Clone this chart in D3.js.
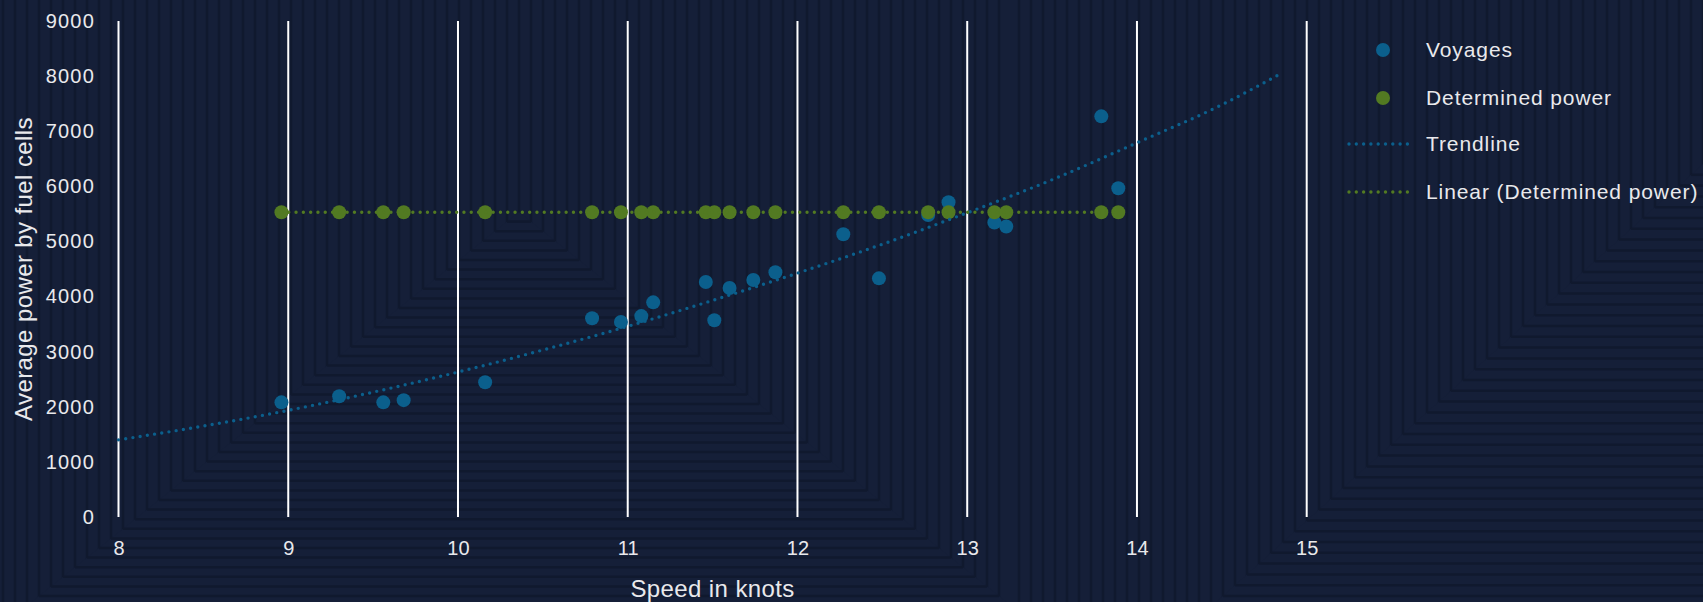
<!DOCTYPE html>
<html>
<head>
<meta charset="utf-8">
<script src="https://cdnjs.cloudflare.com/ajax/libs/d3/7.8.5/d3.min.js"></script>
<style>
  body { margin: 0; background: #151f38; }
  svg { display: block; }
</style>
</head>
<body>
<div id="chart"></div>
<script>
// values
var voyageSpeed = [8.96, 9.30, 9.56, 9.68, 10.16, 10.79, 10.96, 11.08, 11.15, 11.46, 11.51,
  11.60, 11.74, 11.87, 12.27, 12.48, 12.77, 12.89, 13.16, 13.23, 13.79, 13.89];
var voyagePower = [2080, 2190, 2080, 2120, 2445, 3605, 3540, 3645, 3895, 4265, 3570,
  4155, 4300, 4440, 5130, 4330, 5480, 5710, 5345, 5270, 7270, 5965];
var determinedPower = [5530, 5530, 5530, 5530, 5530, 5530, 5530, 5530, 5530, 5530, 5530,
  5530, 5530, 5530, 5530, 5530, 5530, 5530, 5530, 5530, 5530, 5530];
var trendSpeed = [8, 8.5, 9, 9.5, 10, 10.5, 11, 11.5, 12, 12.5, 13, 13.5, 14, 14.5, 14.85];
var trendPower = [1400, 1650, 1935, 2265, 2630, 3030, 3460, 3930, 4425, 4950, 5520, 6120, 6790, 7480, 8050];
var xTicks = [8, 9, 10, 11, 12, 13, 14, 15];
var yTicks = [0, 1000, 2000, 3000, 4000, 5000, 6000, 7000, 8000, 9000];
var legendLabels = ["Voyages", "Determined power", "Trendline", "Linear (Determined power)"];

var width = 1703, height = 602;
var blue = "#0b5f8c", green = "#527a22", textCol = "#e9e9ec";
var bg = "#151f38", band = "#10182c";
var font = "'Liberation Sans', Arial, sans-serif";

var svg = d3.select("#chart").append("svg")
  .attr("width", width)
  .attr("height", height);

// background: banded rectangular gradient, two fields
svg.append("rect").attr("width", width).attr("height", height).attr("fill", bg);

function bands(cx, cy, ratio, x0, x1) {
  var g = svg.append("g").attr("opacity", 0.8);
  var k, hw;
  // vertical edges
  for (k = -150; k <= 150; k++) {
    var vx = cx + k * 12;
    if (vx < x0 || vx > x1) continue;
    g.append("line")
      .attr("x1", vx).attr("x2", vx).attr("y1", 0).attr("y2", height)
      .attr("stroke", band).attr("stroke-width", 2.5);
  }
  // lower wedge: horizontal edges
  var spread = (height - cy) / ratio;
  var pts = [[cx, cy], [cx - spread, height], [cx + spread, height]]
    .map(p => [Math.max(x0, Math.min(x1, p[0])), p[1]]);
  g.append("polygon")
    .attr("points", [[cx, cy], [Math.max(x0, cx - spread), height],
      [Math.min(x1, cx + spread), height]].join(" "))
    .attr("fill", bg);
  for (k = 1; k < 80; k++) {
    hw = k * 12;
    var hy = cy + hw * ratio;
    if (hy > height + 2) break;
    g.append("line")
      .attr("x1", Math.max(x0, cx - hw)).attr("x2", Math.min(x1, cx + hw))
      .attr("y1", hy).attr("y2", hy)
      .attr("stroke", band).attr("stroke-width", 2.5);
  }
}
bands(519, 212, 0.8, 0, 1010);
bands(1703, 164, 0.9, 1010, width);

var x = d3.scaleLinear().domain([8, 15]).range([118.5, 1306.7]);
var y = d3.scaleLinear().domain([0, 9000]).range([517, 21]);

// vertical gridlines
svg.append("g").selectAll("line")
  .data(xTicks)
  .enter().append("line")
  .attr("x1", d => x(d)).attr("x2", d => x(d))
  .attr("y1", y(9000)).attr("y2", y(0))
  .attr("stroke", "#ffffff").attr("stroke-width", 2);

// axes (labels only)
var xAxis = svg.append("g")
  .attr("transform", "translate(0," + (y(0) + 31) + ")")
  .call(d3.axisBottom(x).tickValues(xTicks).tickSize(0).tickPadding(0).tickFormat(d3.format("d")));
xAxis.select(".domain").remove();
xAxis.selectAll("text")
  .attr("dy", "0.35em")
  .attr("fill", textCol)
  .style("font-family", font).style("font-size", "20px");

var yAxis = svg.append("g")
  .attr("transform", "translate(95,0)")
  .call(d3.axisLeft(y).tickValues(yTicks).tickSize(0).tickPadding(0).tickFormat(d3.format("d")));
yAxis.select(".domain").remove();
yAxis.selectAll("text")
  .attr("fill", textCol)
  .style("font-family", font).style("font-size", "20px").style("letter-spacing", "1.2px");

svg.append("text")
  .attr("x", x(11.5)).attr("y", 597)
  .attr("text-anchor", "middle")
  .attr("fill", textCol)
  .style("font-family", font).style("font-size", "24px").style("letter-spacing", "0.4px")
  .text("Speed in knots");

svg.append("text")
  .attr("transform", "translate(32," + y(4500) + ") rotate(-90)")
  .attr("text-anchor", "middle")
  .attr("fill", textCol)
  .style("font-family", font).style("font-size", "24px").style("letter-spacing", "0.4px")
  .text("Average power by fuel cells");

// markers
svg.append("g").selectAll("circle")
  .data(voyageSpeed)
  .enter().append("circle")
  .attr("cx", d => x(d))
  .attr("cy", (d, i) => y(voyagePower[i]))
  .attr("r", 7)
  .attr("fill", blue);

svg.append("g").selectAll("circle")
  .data(voyageSpeed)
  .enter().append("circle")
  .attr("cx", d => x(d))
  .attr("cy", (d, i) => y(determinedPower[i]))
  .attr("r", 7)
  .attr("fill", green);

// trendlines
var trendLine = d3.line()
  .x(d => x(d[0]))
  .y(d => y(d[1]))
  .curve(d3.curveMonotoneX);

svg.append("path")
  .datum(trendSpeed.map((d, i) => [d, trendPower[i]]))
  .attr("fill", "none")
  .attr("stroke", blue)
  .attr("stroke-width", 3.4)
  .attr("stroke-linecap", "round")
  .attr("stroke-dasharray", "0 7.3")
  .attr("d", trendLine);

var xr = d3.extent(voyageSpeed);
svg.append("path")
  .datum([[xr[0], d3.mean(determinedPower)], [xr[1], d3.mean(determinedPower)]])
  .attr("fill", "none")
  .attr("stroke", green)
  .attr("stroke-width", 3.4)
  .attr("stroke-linecap", "round")
  .attr("stroke-dasharray", "0 7.3")
  .attr("d", trendLine);

// legend
var legendY = [50, 98, 144, 192];
var legend = svg.append("g");
legend.append("circle").attr("cx", 1383).attr("cy", legendY[0]).attr("r", 7).attr("fill", blue);
legend.append("circle").attr("cx", 1383).attr("cy", legendY[1]).attr("r", 7).attr("fill", green);
legend.append("line")
  .attr("x1", 1349).attr("x2", 1410).attr("y1", legendY[2]).attr("y2", legendY[2])
  .attr("stroke", blue).attr("stroke-width", 3.4)
  .attr("stroke-linecap", "round").attr("stroke-dasharray", "0 7.3");
legend.append("line")
  .attr("x1", 1349).attr("x2", 1410).attr("y1", legendY[3]).attr("y2", legendY[3])
  .attr("stroke", green).attr("stroke-width", 3.4)
  .attr("stroke-linecap", "round").attr("stroke-dasharray", "0 7.3");

legend.selectAll("text")
  .data(legendLabels)
  .enter().append("text")
  .attr("x", 1426)
  .attr("y", (d, i) => legendY[i])
  .attr("dy", "0.35em")
  .attr("fill", textCol)
  .style("font-family", font).style("font-size", "21px").style("letter-spacing", "0.9px")
  .text(d => d);
</script>
</body>
</html>
